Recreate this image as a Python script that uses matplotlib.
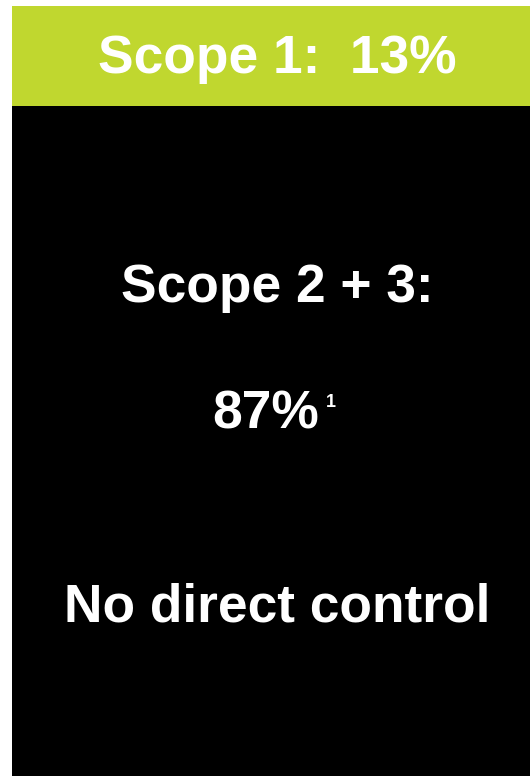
import matplotlib
matplotlib.use('Agg')
from matplotlib import pyplot as plt

plt.rcParams['font.family'] = ['Liberation Sans', 'DejaVu Sans']

# data
segments = ['Scope 2 + 3', 'Scope 1']
shares = [87, 13]
colors = ['#000000', '#c0d72f']


def main():
    fig = plt.figure(figsize=(5.3, 7.76), dpi=100)
    ax = fig.add_axes([12 / 530, 0, 518 / 530, 770 / 776])
    bottom = 0
    for name, val, col in zip(segments, shares, colors):
        ax.bar(0, val, width=1, bottom=bottom, color=col, linewidth=0)
        bottom += val
    ax.set_xlim(-0.5, 0.5)
    ax.set_ylim(0, sum(shares))
    ax.axis('off')

    big = dict(color='white', fontsize=38.3, fontweight='bold', ha='center', va='baseline')
    xc = 0.012
    ax.text(xc, 91.3, 'Scope 1:  %d%%' % shares[1], **big)
    ax.text(xc, 61.6, 'Scope 2 + 3:', **big)
    ax.text(-0.011, 45.1, '%d%%' % shares[0], **big)
    ax.text(0.115, 47.9, '1', color='white', fontsize=13,
            fontweight='bold', ha='center', va='baseline')
    ax.text(xc, 20.0, 'No direct control', **big)

    fig.savefig('out.png', dpi=100)


if __name__ == '__main__':
    main()
